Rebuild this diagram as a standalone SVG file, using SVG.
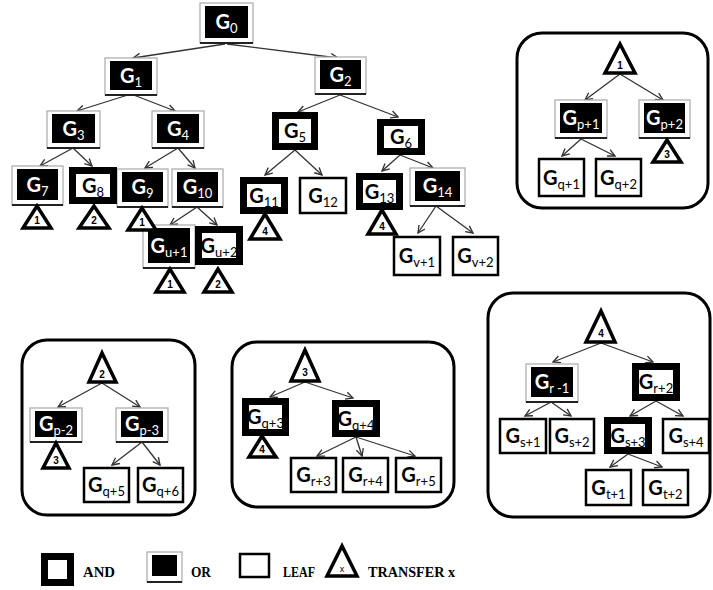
<svg xmlns="http://www.w3.org/2000/svg" width="713" height="590" viewBox="0 0 713 590">
<style>
.orf{fill:#fff;stroke:#a8a8a8;stroke-width:1.2}
.orb{fill:#000}
.orl{stroke:#222;stroke-width:2}
.and{fill:#fff;stroke:#000;stroke-width:7}
.leaf{fill:#fff;stroke:#000;stroke-width:2.5}
.tri{fill:#fff;stroke:#000;stroke-width:3.5;stroke-linejoin:miter}
.panel{fill:none;stroke:#000;stroke-width:3}
.lbl{font-family:Lato,"Open Sans","Liberation Sans",sans-serif;font-size:20px;font-weight:bold;text-anchor:middle}
.w{fill:#fff}
.b{fill:#000}
.sub{font-size:13px;font-weight:normal}
.tn{font-family:"Liberation Sans",Arial,sans-serif;font-size:10px;font-weight:bold;text-anchor:middle;fill:#000}
.leg{font-family:"Liberation Serif","Times New Roman",serif;font-size:15px;font-weight:bold;fill:#000}
.conn line{stroke:#333;stroke-width:1.3;fill:none;marker-end:url(#arr)}
</style>
<defs>
<marker id="arr" viewBox="0 0 10 10" refX="9" refY="5" markerWidth="9" markerHeight="9" markerUnits="userSpaceOnUse" orient="auto">
<path d="M1,1 L9,5 L1,9" fill="none" stroke="#333" stroke-width="1.5"/>
</marker>
</defs>
<rect width="713" height="590" fill="#fff"/>

<g id="panels">
<rect id="panel-1" class="panel" x="517" y="33" width="191" height="175" rx="25"/>
<rect id="panel-2" class="panel" x="22" y="340" width="173" height="175" rx="25"/>
<rect id="panel-3" class="panel" x="232" y="342" width="222" height="165" rx="25"/>
<rect id="panel-4" class="panel" x="488" y="293" width="222" height="224" rx="25"/>
</g>

<g id="connectors" class="conn">
<line x1="225" y1="44" x2="133" y2="58"/>
<line x1="227" y1="44" x2="338" y2="58"/>
<line x1="131" y1="94" x2="77" y2="111"/>
<line x1="131" y1="94" x2="175" y2="111"/>
<line x1="73" y1="148" x2="40" y2="166"/>
<line x1="73" y1="148" x2="92" y2="166"/>
<line x1="178" y1="148" x2="145" y2="168"/>
<line x1="178" y1="148" x2="195" y2="168"/>
<line x1="197" y1="207" x2="170" y2="225"/>
<line x1="197" y1="207" x2="217" y2="225"/>
<line x1="340" y1="95" x2="298" y2="112"/>
<line x1="340" y1="95" x2="398" y2="117"/>
<line x1="295" y1="150" x2="265" y2="175"/>
<line x1="295" y1="150" x2="322" y2="175"/>
<line x1="400" y1="155" x2="382" y2="171"/>
<line x1="400" y1="155" x2="433" y2="168"/>
<line x1="436" y1="206" x2="418" y2="233"/>
<line x1="436" y1="206" x2="473" y2="233"/>
<line x1="620" y1="74" x2="585" y2="100"/>
<line x1="620" y1="74" x2="663" y2="100"/>
<line x1="581" y1="139" x2="562" y2="156"/>
<line x1="581" y1="139" x2="615" y2="156"/>
<line x1="102" y1="383" x2="58" y2="407"/>
<line x1="102" y1="383" x2="140" y2="407"/>
<line x1="142" y1="442" x2="112" y2="465"/>
<line x1="142" y1="442" x2="160" y2="465"/>
<line x1="305" y1="382" x2="270" y2="397"/>
<line x1="305" y1="382" x2="353" y2="398"/>
<line x1="356" y1="437" x2="317" y2="456"/>
<line x1="356" y1="437" x2="362" y2="456"/>
<line x1="356" y1="437" x2="415" y2="456"/>
<line x1="601" y1="343" x2="553" y2="362"/>
<line x1="601" y1="343" x2="653" y2="362"/>
<line x1="551" y1="402" x2="525" y2="416"/>
<line x1="551" y1="402" x2="571" y2="416"/>
<line x1="656" y1="401" x2="630" y2="416"/>
<line x1="656" y1="401" x2="683" y2="416"/>
<line x1="628" y1="454" x2="610" y2="467"/>
<line x1="628" y1="454" x2="662" y2="467"/>
</g>

<!-- OR nodes -->
<g id="G0"><rect class="orf" x="200" y="3" width="53" height="40"/><rect class="orb" x="205" y="6" width="43" height="32"/><line class="orl" x1="200" y1="43" x2="253" y2="43"/><text class="lbl w" x="226.5" y="29">G<tspan class="sub" dy="4">0</tspan></text></g>
<g id="G1"><rect class="orf" x="105" y="58" width="52" height="37"/><rect class="orb" x="110" y="61" width="42" height="29"/><line class="orl" x1="105" y1="95" x2="157" y2="95"/><text class="lbl w" x="131" y="82.5">G<tspan class="sub" dy="4">1</tspan></text></g>
<g id="G2"><rect class="orf" x="315" y="57" width="51" height="37"/><rect class="orb" x="320" y="60" width="41" height="29"/><line class="orl" x1="315" y1="94" x2="366" y2="94"/><text class="lbl w" x="340.5" y="81.5">G<tspan class="sub" dy="4">2</tspan></text></g>
<g id="G3"><rect class="orf" x="47" y="111" width="53" height="37"/><rect class="orb" x="52" y="114" width="43" height="29"/><line class="orl" x1="47" y1="148" x2="100" y2="148"/><text class="lbl w" x="73.5" y="135.5">G<tspan class="sub" dy="4">3</tspan></text></g>
<g id="G4"><rect class="orf" x="152" y="111" width="52" height="37"/><rect class="orb" x="157" y="114" width="42" height="29"/><line class="orl" x1="152" y1="148" x2="204" y2="148"/><text class="lbl w" x="178" y="135.5">G<tspan class="sub" dy="4">4</tspan></text></g>
<g id="G7"><rect class="orf" x="12" y="166" width="51" height="39"/><rect class="orb" x="17" y="169" width="41" height="31"/><line class="orl" x1="12" y1="205" x2="63" y2="205"/><text class="lbl w" x="37.5" y="191.5">G<tspan class="sub" dy="4">7</tspan></text></g>
<g id="G9"><rect class="orf" x="117" y="169" width="51" height="38"/><rect class="orb" x="122" y="172" width="41" height="30"/><line class="orl" x1="117" y1="207" x2="168" y2="207"/><text class="lbl w" x="142.5" y="194">G<tspan class="sub" dy="4">9</tspan></text></g>
<g id="G10"><rect class="orf" x="172" y="169" width="51" height="38"/><rect class="orb" x="177" y="172" width="41" height="30"/><line class="orl" x1="172" y1="207" x2="223" y2="207"/><text class="lbl w" x="197.5" y="194">G<tspan class="sub" dy="4">10</tspan></text></g>
<g id="G14"><rect class="orf" x="410" y="168" width="55" height="38"/><rect class="orb" x="415" y="171" width="45" height="30"/><line class="orl" x1="410" y1="206" x2="465" y2="206"/><text class="lbl w" x="437.5" y="193">G<tspan class="sub" dy="4">14</tspan></text></g>
<g id="Gu1"><rect class="orf" x="143" y="225" width="52" height="43"/><rect class="orb" x="148" y="228" width="42" height="35"/><line class="orl" x1="143" y1="268" x2="195" y2="268"/><text class="lbl w" x="169" y="252.5">G<tspan class="sub" dy="4">u+1</tspan></text></g>
<g id="Gp1"><rect class="orf" x="555" y="100" width="52" height="38"/><rect class="orb" x="560" y="103" width="42" height="30"/><line class="orl" x1="555" y1="138" x2="607" y2="138"/><text class="lbl w" x="581" y="125">G<tspan class="sub" dy="4">p+1</tspan></text></g>
<g id="Gp2"><rect class="orf" x="639" y="100" width="51" height="38"/><rect class="orb" x="644" y="103" width="41" height="30"/><line class="orl" x1="639" y1="138" x2="690" y2="138"/><text class="lbl w" x="664.5" y="125">G<tspan class="sub" dy="4">p+2</tspan></text></g>
<g id="Gpm2"><rect class="orf" x="30" y="408" width="52" height="34"/><rect class="orb" x="35" y="411" width="42" height="26"/><line class="orl" x1="30" y1="442" x2="82" y2="442"/><text class="lbl w" x="56" y="431">G<tspan class="sub" dy="4">p-2</tspan></text></g>
<g id="Gpm3"><rect class="orf" x="116" y="408" width="52" height="34"/><rect class="orb" x="121" y="411" width="42" height="26"/><line class="orl" x1="116" y1="442" x2="168" y2="442"/><text class="lbl w" x="142" y="431">G<tspan class="sub" dy="4">p-3</tspan></text></g>
<g id="Grm1"><rect class="orf" x="526" y="364" width="52" height="38"/><rect class="orb" x="531" y="367" width="42" height="30"/><line class="orl" x1="526" y1="402" x2="578" y2="402"/><text class="lbl w" x="552" y="389">G<tspan class="sub" dy="4">r -1</tspan></text></g>

<!-- AND nodes -->
<g id="G5"><rect class="and" x="275.5" y="115.5" width="39" height="31"/><text class="lbl b" x="295" y="138">G<tspan class="sub" dy="4">5</tspan></text></g>
<g id="G6"><rect class="and" x="380.5" y="122.5" width="41" height="29"/><text class="lbl b" x="401" y="144">G<tspan class="sub" dy="4">6</tspan></text></g>
<g id="G8"><rect class="and" x="72.5" y="170.5" width="41" height="30"/><text class="lbl b" x="93" y="192.5">G<tspan class="sub" dy="4">8</tspan></text></g>
<g id="G11"><rect class="and" x="243.5" y="180.5" width="41" height="30"/><text class="lbl b" x="264" y="202.5">G<tspan class="sub" dy="4">11</tspan></text></g>
<g id="G13"><rect class="and" x="359.5" y="176.5" width="40" height="30"/><text class="lbl b" x="379.5" y="198.5">G<tspan class="sub" dy="4">13</tspan></text></g>
<g id="Gu2"><rect class="and" x="198.5" y="229.5" width="41" height="32"/><text class="lbl b" x="219" y="252.5">G<tspan class="sub" dy="4">u+2</tspan></text></g>
<g id="Gq3"><rect class="and" x="245.5" y="401.5" width="40" height="31"/><text class="lbl b" x="265.5" y="424">G<tspan class="sub" dy="4">q+3</tspan></text></g>
<g id="Gq4"><rect class="and" x="335.5" y="403.5" width="41" height="30"/><text class="lbl b" x="356" y="425.5">G<tspan class="sub" dy="4">q+4</tspan></text></g>
<g id="Gr2"><rect class="and" x="635.5" y="366.5" width="41" height="31"/><text class="lbl b" x="656" y="389">G<tspan class="sub" dy="4">r+2</tspan></text></g>
<g id="Gs3"><rect class="and" x="607.5" y="420.5" width="41" height="30"/><text class="lbl b" x="628" y="442.5">G<tspan class="sub" dy="4">s+3</tspan></text></g>

<!-- LEAF nodes -->
<g id="G12"><rect class="leaf" x="300" y="178" width="46" height="35"/><text class="lbl b" x="323" y="203">G<tspan class="sub" dy="4">12</tspan></text></g>
<g id="Gv1"><rect class="leaf" x="394" y="237" width="46" height="38"/><text class="lbl b" x="417" y="263">G<tspan class="sub" dy="4">v+1</tspan></text></g>
<g id="Gv2"><rect class="leaf" x="453" y="237" width="45" height="38"/><text class="lbl b" x="475.5" y="263">G<tspan class="sub" dy="4">v+2</tspan></text></g>
<g id="Gq1"><rect class="leaf" x="539" y="159" width="45" height="37"/><text class="lbl b" x="561.5" y="184.5">G<tspan class="sub" dy="4">q+1</tspan></text></g>
<g id="Gq2"><rect class="leaf" x="596" y="159" width="45" height="37"/><text class="lbl b" x="618.5" y="184.5">G<tspan class="sub" dy="4">q+2</tspan></text></g>
<g id="Gq5"><rect class="leaf" x="84" y="468" width="45" height="34"/><text class="lbl b" x="106.5" y="492">G<tspan class="sub" dy="4">q+5</tspan></text></g>
<g id="Gq6"><rect class="leaf" x="138" y="468" width="45" height="34"/><text class="lbl b" x="160.5" y="492">G<tspan class="sub" dy="4">q+6</tspan></text></g>
<g id="Gr3"><rect class="leaf" x="291" y="458" width="45" height="34"/><text class="lbl b" x="313.5" y="482">G<tspan class="sub" dy="4">r+3</tspan></text></g>
<g id="Gr4"><rect class="leaf" x="343" y="458" width="45" height="34"/><text class="lbl b" x="365.5" y="482">G<tspan class="sub" dy="4">r+4</tspan></text></g>
<g id="Gr5"><rect class="leaf" x="396" y="458" width="45" height="34"/><text class="lbl b" x="418.5" y="482">G<tspan class="sub" dy="4">r+5</tspan></text></g>
<g id="Gs1"><rect class="leaf" x="500" y="419" width="46" height="34"/><text class="lbl b" x="523" y="443">G<tspan class="sub" dy="4">s+1</tspan></text></g>
<g id="Gs2"><rect class="leaf" x="550" y="419" width="44" height="34"/><text class="lbl b" x="572" y="443">G<tspan class="sub" dy="4">s+2</tspan></text></g>
<g id="Gs4"><rect class="leaf" x="663" y="419" width="46" height="34"/><text class="lbl b" x="686" y="443">G<tspan class="sub" dy="4">s+4</tspan></text></g>
<g id="Gt1"><rect class="leaf" x="586" y="470" width="45" height="35"/><text class="lbl b" x="608.5" y="494.5">G<tspan class="sub" dy="4">t+1</tspan></text></g>
<g id="Gt2"><rect class="leaf" x="643" y="470" width="45" height="35"/><text class="lbl b" x="665.5" y="494.5">G<tspan class="sub" dy="4">t+2</tspan></text></g>

<!-- TRANSFER nodes -->
<g id="T-G7"><polygon class="tri" points="37,206 23,228 51,228"/><text class="tn" x="37" y="224">1</text></g>
<g id="T-G8"><polygon class="tri" points="94,206 79,228 109,228"/><text class="tn" x="94" y="224">2</text></g>
<g id="T-G9"><polygon class="tri" points="142,208 128,230 156,230"/><text class="tn" x="142" y="226">1</text></g>
<g id="T-Gu1"><polygon class="tri" points="170,269 156,292 184,292"/><text class="tn" x="170" y="288">1</text></g>
<g id="T-Gu2"><polygon class="tri" points="218,269 204,292 232,292"/><text class="tn" x="218" y="288">2</text></g>
<g id="T-G11"><polygon class="tri" points="265,214 250,239 280,239"/><text class="tn" x="265" y="235">4</text></g>
<g id="T-G13"><polygon class="tri" points="382,210 368,234 396,234"/><text class="tn" x="382" y="230">4</text></g>
<g id="T-1"><polygon class="tri" points="620,44 605,73 635,73"/><text class="tn" x="620" y="69">1</text></g>
<g id="T-Gp2"><polygon class="tri" points="667,140 653,162 681,162"/><text class="tn" x="667" y="158">3</text></g>
<g id="T-2"><polygon class="tri" points="102,353 89,382 116,382"/><text class="tn" x="102" y="378">2</text></g>
<g id="T-Gpm2"><polygon class="tri" points="56,443 43,468 69,468"/><text class="tn" x="56" y="464">3</text></g>
<g id="T-3"><polygon class="tri" points="305,350 291,381 319,381"/><text class="tn" x="305" y="376">3</text></g>
<g id="T-Gq3"><polygon class="tri" points="262,436 249,457 276,457"/><text class="tn" x="262" y="453">4</text></g>
<g id="T-4"><polygon class="tri" points="601,311 586,342 615,342"/><text class="tn" x="601" y="337">4</text></g>

<!-- Legend -->
<g id="legend">
<rect class="and" x="44.5" y="556.5" width="26" height="26"/>
<text class="leg" x="83" y="577" textLength="32" lengthAdjust="spacingAndGlyphs">AND</text>
<rect class="orf" x="147" y="552" width="35" height="30"/>
<rect class="orb" x="152" y="555" width="25" height="21"/>
<line class="orl" x1="147" y1="582" x2="182" y2="582"/>
<text class="leg" x="191" y="577" textLength="20" lengthAdjust="spacingAndGlyphs">OR</text>
<rect class="leaf" x="240" y="554" width="29" height="23"/>
<text class="leg" x="283" y="577" textLength="32" lengthAdjust="spacingAndGlyphs">LEAF</text>
<polygon class="tri" points="342,546 327,576 357,576"/>
<text class="tn" x="342" y="572" style="font-size:9px;font-weight:normal">x</text>
<text class="leg" x="368" y="577" textLength="87" lengthAdjust="spacingAndGlyphs">TRANSFER x</text>
</g>
</svg>
